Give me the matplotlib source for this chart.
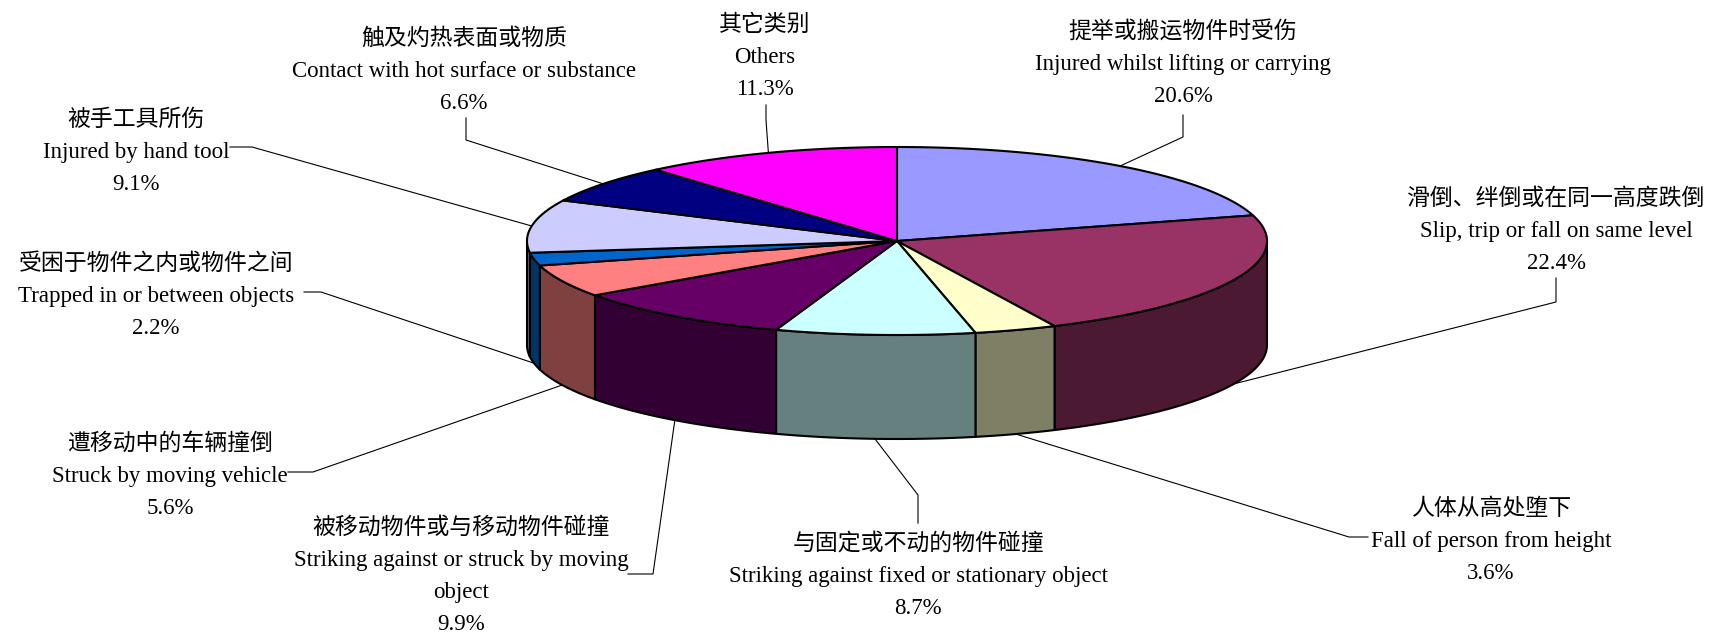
import numpy as np
import matplotlib.pyplot as plt
from matplotlib.patches import Polygon

# data, clockwise from 12 o'clock
names_zh = ['提举或搬运物件时受伤', '滑倒、绊倒或在同一高度跌倒', '人体从高处堕下',
            '与固定或不动的物件碰撞', '被移动物件或与移动物件碰撞', '遭移动中的车辆撞倒',
            '受困于物件之内或物件之间', '被手工具所伤', '触及灼热表面或物质', '其它类别']
names_en = ['Injured whilst lifting or carrying', 'Slip, trip or fall on same level',
            'Fall of person from height', 'Striking against fixed or stationary object',
            'Striking against or struck by moving\nobject', 'Struck by moving vehicle',
            'Trapped in or between objects', 'Injured by hand tool',
            'Contact with hot surface or substance', 'Others']
shares = [20.6, 22.4, 3.6, 8.7, 9.9, 5.6, 2.2, 9.1, 6.6, 11.3]

top_colors = ['#9999FF', '#993366', '#FFFFCC', '#CCFFFF', '#660066',
              '#FF8080', '#0066CC', '#CCCCFF', '#000080', '#FF00FF']

# pie geometry (pixels)
cx, cy, rx, ry, depth = 897, 241, 370, 94, 104

# label layout: first line position, leader elbow and leader end
label_pos = [(1183, 30), (1556, 197), (1491, 507), (918, 542), (461, 526),
             (170, 442), (156, 262), (136, 118), (464, 37), (765, 23)]
leader_pts = [[(1183, 137), (1183, 115)], [(1556, 302), (1556, 278)],
              [(1349, 537), (1368, 537)], [(918, 495), (918, 523)],
              [(653, 574), (628, 574)], [(313, 472), (288, 472)],
              [(321, 292), (304, 292)], [(252, 147), (230, 147)],
              [(466, 140), (466, 118)], [(766, 120), (766, 105)]]
pitch = 32

fonts = ['Liberation Serif', 'Noto Sans CJK SC']


def rim(t, drop=0.0):
    r = np.radians(t)
    return cx + rx * np.sin(r), cy - ry * np.cos(r) + drop


def darker(c):
    r, g, b = [int(c[i:i + 2], 16) for i in (1, 3, 5)]
    return '#%02x%02x%02x' % (r // 2, g // 2, b // 2)


fig = plt.figure(figsize=(17.17, 6.33), dpi=100)
ax = fig.add_axes([0, 0, 1, 1])
ax.set_xlim(0, 1717)
ax.set_ylim(633, 0)
ax.axis('off')

edges = np.concatenate([[0], np.cumsum(shares)]) / sum(shares) * 360

# side walls (only the front half is visible)
for i in range(len(shares)):
    s0, s1 = max(edges[i], 90), min(edges[i + 1], 270)
    if s1 <= s0:
        continue
    ts = np.linspace(s0, s1, 120)
    xt, yt = rim(ts)
    xb, yb = rim(ts[::-1], depth)
    pts = np.column_stack([np.concatenate([xt, xb]), np.concatenate([yt, yb])])
    ax.add_patch(Polygon(pts, closed=True, fc=darker(top_colors[i]), ec='black',
                         lw=1.5, joinstyle='round', zorder=3))

# top face
for i in range(len(shares)):
    ts = np.linspace(edges[i], edges[i + 1], 200)
    xt, yt = rim(ts)
    pts = np.column_stack([np.concatenate([[cx], xt]), np.concatenate([[cy], yt])])
    ax.add_patch(Polygon(pts, closed=True, fc=top_colors[i], ec='black',
                         lw=1.5, joinstyle='round', zorder=4))

# labels and leader lines
for i in range(len(shares)):
    mid = (edges[i] + edges[i + 1]) / 2
    drop = depth if np.cos(np.radians(mid)) < 0 else 0
    ax_, ay_ = rim(mid, drop)
    xs = [ax_] + [p[0] for p in leader_pts[i]]
    ys = [ay_] + [p[1] for p in leader_pts[i]]
    ax.plot(xs, ys, color='black', lw=0.8, zorder=2)

    lines = [names_zh[i]] + names_en[i].split('\n') + [f'{shares[i]:.1f}%']
    lx, ly = label_pos[i]
    for k, line in enumerate(lines):
        ax.text(lx, ly + k * pitch + 8, line, ha='center', va='baseline',
                fontsize=16.5, family=fonts, color='black')

fig.savefig('out.png', dpi=100)
